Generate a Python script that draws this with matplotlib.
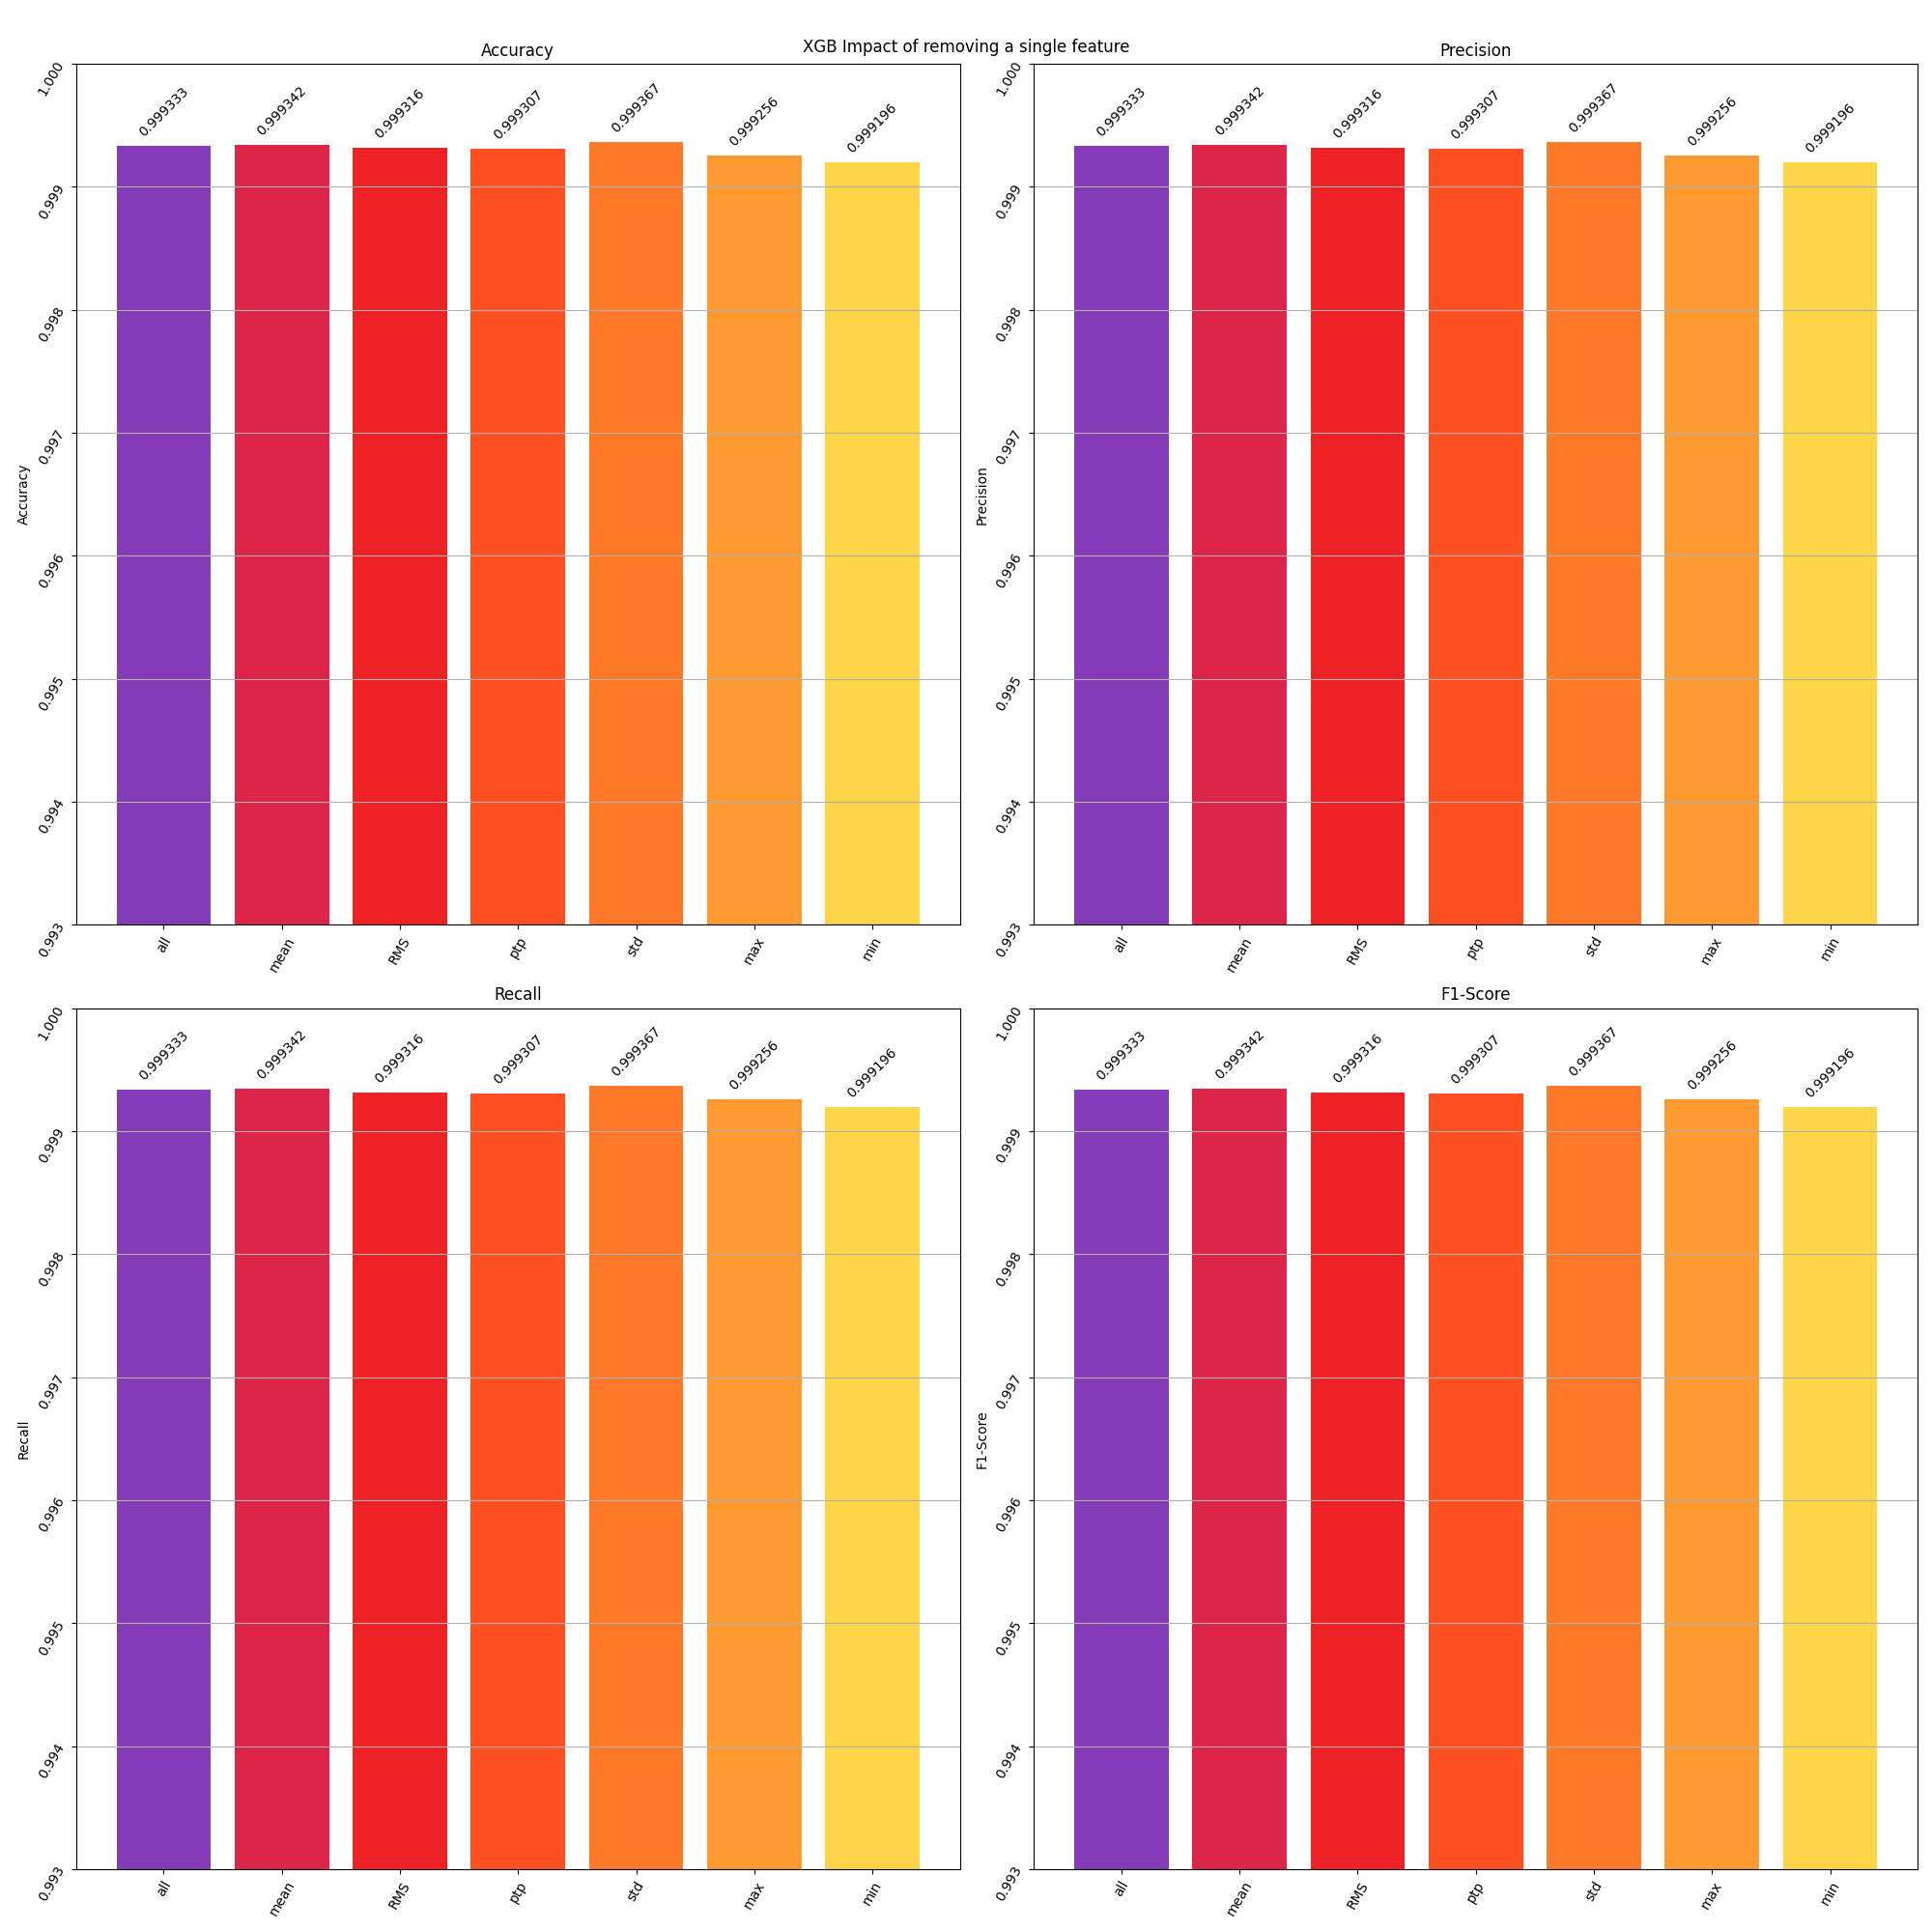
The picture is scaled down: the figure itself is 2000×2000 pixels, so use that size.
import numpy as np
import matplotlib
matplotlib.use("Agg")
import matplotlib.pyplot as plt

features = ['all', 'mean', 'RMS', 'ptp', 'std', 'max', 'min']
metrics = ['Accuracy', 'Precision', 'Recall', 'F1-Score']
accuracy = [0.999333, 0.999342, 0.999316, 0.999307, 0.999367, 0.999256, 0.999196]
precision = [0.999333, 0.999342, 0.999316, 0.999307, 0.999367, 0.999256, 0.999196]
recall = [0.999333, 0.999342, 0.999316, 0.999307, 0.999367, 0.999256, 0.999196]
f1_score = [0.999333, 0.999342, 0.999316, 0.999307, 0.999367, 0.999256, 0.999196]
colors = ['#843bb5', '#dc2548', '#ed2224', '#fd4f21', '#fe7a28', '#fd9a32', '#fdd548']

scores = {'Accuracy': accuracy, 'Precision': precision, 'Recall': recall, 'F1-Score': f1_score}

fig, axes = plt.subplots(2, 2, figsize=(20, 20), dpi=100)
for ax, metric in zip(axes.flat, metrics):
    bars = ax.bar(features, scores[metric], color=colors)
    ax.bar_label(bars, rotation=45, padding=5)
    ax.set_ylim(0.993, 1.000)
    ax.set_title(metric)
    ax.set_ylabel(metric)
    ax.grid(axis='y')
    ax.tick_params(axis='x', labelrotation=60)
    ax.tick_params(axis='y', labelrotation=60)

fig.suptitle('XGB Impact of removing a single feature')
fig.subplots_adjust(left=0.0395, right=0.9925, top=0.967, bottom=0.0325, wspace=0.084, hspace=0.0965)
plt.savefig('out.png')
